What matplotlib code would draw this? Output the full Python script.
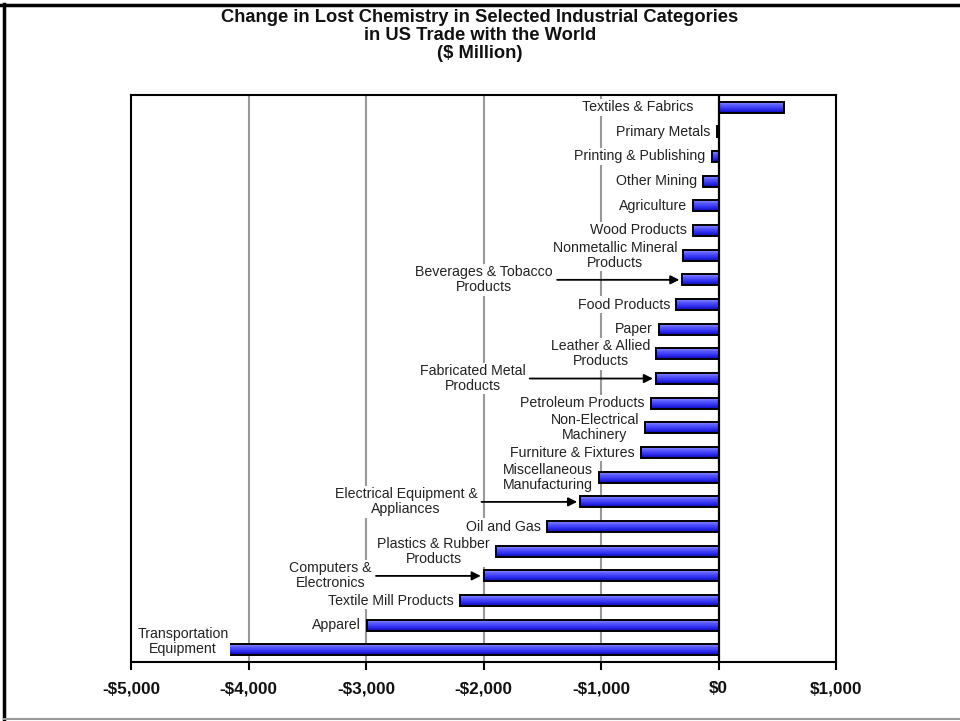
import numpy as np
import matplotlib
matplotlib.use('Agg')
import matplotlib.pyplot as plt
from matplotlib.colors import LinearSegmentedColormap
from matplotlib.lines import Line2D

# Data (values in $ million)
categories = [
    'Textiles & Fabrics', 'Primary Metals', 'Printing & Publishing',
    'Other Mining', 'Agriculture', 'Wood Products',
    'Nonmetallic Mineral\nProducts', 'Beverages & Tobacco\nProducts',
    'Food Products', 'Paper', 'Leather & Allied\nProducts',
    'Fabricated Metal\nProducts', 'Petroleum Products',
    'Non-Electrical\nMachinery', 'Furniture & Fixtures',
    'Miscellaneous\nManufacturing', 'Electrical Equipment &\nAppliances',
    'Oil and Gas', 'Plastics & Rubber\nProducts', 'Computers &\nElectronics',
    'Textile Mill Products', 'Apparel', 'Transportation\nEquipment',
]
values = [560, -15, -60, -130, -215, -220, -300, -310, -360, -510, -530,
          -535, -575, -625, -660, -1015, -1180, -1460, -1895, -2000,
          -2200, -2990, -4180]
x_ticks = [-5000, -4000, -3000, -2000, -1000, 0, 1000]
title_lines = ['Change in Lost Chemistry in Selected Industrial Categories',
               'in US Trade with the World', '($ Million)']

plt.rcParams['font.family'] = ['Liberation Sans', 'DejaVu Sans']

fig = plt.figure(figsize=(9.6, 7.21), dpi=100)
ax = fig.add_axes([0.1365, 0.0818, 0.7344, 0.7864])

n = len(categories)
ypos = np.arange(n)[::-1]
h = 0.45

# bars: gradient fill clipped to each bar, then black outline on top
faces = ax.barh(ypos, values, height=h, color='#4a4aff', linewidth=0, zorder=3)
cmap = LinearSegmentedColormap.from_list(
    'bar', ['#9c9cff', '#5c5cff', '#3030f2', '#0a0ab4'])
grad = np.linspace(0, 1, 64).reshape(-1, 1)
for bar, y, v in zip(faces, ypos, values):
    x0, x1 = sorted([0, v])
    im = ax.imshow(grad, extent=(x0, x1, y - h / 2, y + h / 2), origin='upper',
                   cmap=cmap, aspect='auto', zorder=3.1, interpolation='bilinear')
    im.set_clip_path(bar)
ax.barh(ypos, values, height=h, fill=False, edgecolor='black',
        linewidth=1.4, zorder=3.2)

# gridlines and zero line
for x in x_ticks[1:5]:
    ax.axvline(x, color='#999999', lw=1.5, zorder=1)
ax.axvline(0, color='black', lw=1.6, zorder=4)

# category labels
arrow_offset = {  # pixels from bar end to text centre
    'Beverages & Tobacco\nProducts': 198,
    'Fabricated Metal\nProducts': 183,
    'Electrical Equipment &\nAppliances': 174,
    'Computers &\nElectronics': 153,
}
nudge = {'Textiles & Fabrics': (-25, 0), 'Transportation\nEquipment': (1, 8)}
lab_font = 10.2
for cat, v, y in zip(categories, values, ypos):
    end = min(v, 0)
    if cat in arrow_offset:
        ax.annotate(cat, xy=(end, y), xytext=(-arrow_offset[cat], 0),
                    textcoords='offset pixels', ha='center', va='center',
                    multialignment='center', fontsize=lab_font, color='#222222',
                    linespacing=1.1,
                    bbox=dict(fc='white', ec='none', pad=1),
                    arrowprops=dict(arrowstyle='-|>', color='black', lw=1.3,
                                    shrinkA=2, shrinkB=2, mutation_scale=13),
                    zorder=5)
    else:
        dx, dy = nudge.get(cat, (-6, 0))
        ax.annotate(cat, xy=(end, y), xytext=(dx, dy),
                    textcoords='offset pixels', ha='right', va='center',
                    multialignment='center', fontsize=lab_font, color='#222222',
                    linespacing=1.1,
                    bbox=dict(fc='white', ec='none', pad=1), zorder=5)

ax.set_xlim(-5000, 1000)
ax.set_ylim(-0.49, n - 1 + 0.49)
ax.set_xticks(x_ticks)
ax.set_xticklabels([('-$' if t < 0 else '$') + f'{abs(t):,}' for t in x_ticks],
                   fontsize=12.3, fontweight='bold', color='#111111')
ax.set_yticks([])
ax.tick_params(axis='x', direction='out', length=6, width=1.5, pad=8)
for s in ax.spines.values():
    s.set_color('black')
    s.set_linewidth(1.5)

# title
for i, t in enumerate(title_lines):
    fig.text(0.5, 1 - (17 + 18 * i) / 721, t, ha='center', va='center',
             fontsize=13.2, fontweight='bold', color='#111111')

# page border
fig.add_artist(Line2D([0, 1], [1 - 4.5 / 721] * 2, color='black', lw=2.5))
fig.add_artist(Line2D([4 / 960] * 2, [1 - 4 / 721, 2 / 721], color='black', lw=2.5))
fig.add_artist(Line2D([4 / 960, 1], [2 / 721] * 2, color='#999999', lw=1.5))

fig.savefig('out.png', dpi=100, facecolor='white')
